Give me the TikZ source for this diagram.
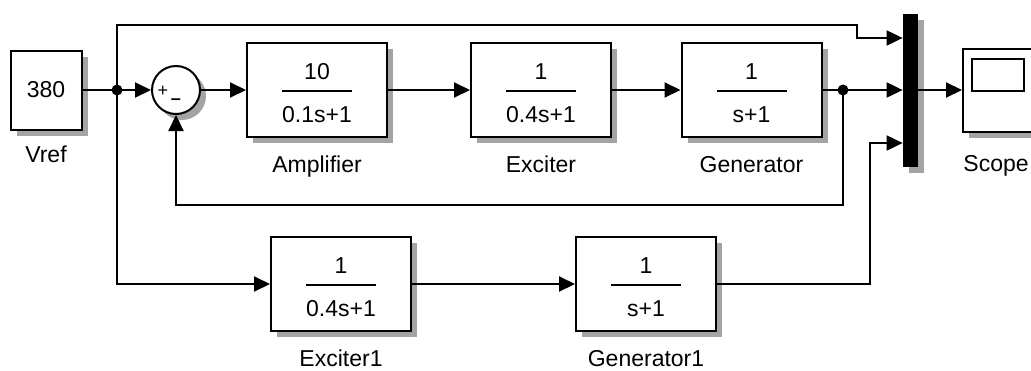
\documentclass[tikz,border=0pt]{standalone}
\usepackage{fontspec}
\setmainfont{Liberation Sans}
\usetikzlibrary{arrows.meta, positioning, calc, shadows}
\definecolor{ShadowGray}{HTML}{9A9A9A}

\tikzset{
  shd/.style={drop shadow={shadow xshift=3pt, shadow yshift=-3pt, fill=ShadowGray, opacity=0.9}},
  blk/.style={draw, line width=1pt, fill=white, minimum width=70pt, minimum height=47pt, inner sep=0pt, shd},
  sig/.style={line width=1pt},
  arr/.style={sig, -{Triangle[length=8pt, width=7.5pt]}},
  jn/.style={circle, fill=black, minimum size=5.5pt, inner sep=0pt},
  lbl/.style={font=\fontsize{11.5}{13}\selectfont},
  blkcaption/.style={lbl, anchor=base},
}

% transfer function block: name, centre, numerator, denominator, caption
\newcommand{\tfblock}[5]{%
  \node[blk] (#1) at (#2) {};
  \node[lbl] at ($(#1.center)+(0,-18)$) {#3};
  \draw[line width=0.8pt] ($(#1.center)+(-35,1)$) -- ++(70,0);
  \node[lbl] at ($(#1.center)+(0,25)$) {#4};
  \node[blkcaption] at ($(#1.south)+(0,34)$) {#5};
}

\begin{document}
\begin{tikzpicture}[x=0.5pt, y=-0.5pt]
  \useasboundingbox (0,0) rectangle (1031,370);

  % --- LAYOUT VARIABLES ---
  \def\MainY{90}
  \def\LowY{284}

  % =====================================================================
  % 1. SOURCE AND SUMMING JUNCTION
  % =====================================================================
  \node[blk, minimum width=35.5pt, minimum height=39.5pt, lbl] (vref) at (46,\MainY) {380};
  \node[blkcaption] at ($(vref.south)+(0,32)$) {Vref};

  \node[circle, draw, line width=1pt, fill=white, minimum size=24pt, inner sep=0pt, shd]
    (sum) at (176,\MainY) {};
  \node[font=\fontsize{9}{9}\selectfont] at ($(sum.center)+(-13,1)$) {+};
  \node[font=\fontsize{9}{9}\selectfont\bfseries] at ($(sum.center)+(0,12)$) {–};

  % =====================================================================
  % 2. MAIN LOOP (upper row)
  % =====================================================================
  \tfblock{amp}{317,\MainY}{10}{0.1s+1}{Amplifier}
  \tfblock{exc}{541,\MainY}{1}{0.4s+1}{Exciter}
  \tfblock{gen}{751.5,\MainY}{1}{s+1}{Generator}

  % =====================================================================
  % 3. OPEN LOOP (lower row)
  % =====================================================================
  \tfblock{exc1}{341,\LowY}{1}{0.4s+1}{Exciter1}
  \tfblock{gen1}{646,\LowY}{1}{s+1}{Generator1}

  % =====================================================================
  % 4. MUX AND SCOPE
  % =====================================================================
  \node[fill=black, minimum width=7.5pt, minimum height=76.5pt, inner sep=0pt, shd]
    (mux) at (910.5,\MainY) {};
  \coordinate (in1) at ($(mux.west)+(0,-52)$);
  \coordinate (in2) at (mux.west);
  \coordinate (in3) at ($(mux.west)+(0,53)$);

  \node[blk, minimum width=40pt, minimum height=41.5pt] (scope) at (1003,\MainY) {};
  \draw[line width=1pt] ($(scope.north west)+(10,11)$) rectangle ++(52,32);
  \node[blkcaption] at ($(scope.south)+(-7,39)$) {Scope};

  % =====================================================================
  % 5. SIGNAL LINES
  % =====================================================================
  \coordinate (dotA) at (117,\MainY);
  \coordinate (dotB) at (843,\MainY);
  \coordinate (top) at (857,25);
  \coordinate (fb) at (176,205);
  \coordinate (bot) at (870,143);

  \draw[sig] (vref) -- (dotA);
  \draw[arr] (dotA) -- (sum);
  \draw[arr] (sum) -- (amp);
  \draw[arr] (amp) -- (exc);
  \draw[arr] (exc) -- (gen);
  \draw[sig] (gen) -- (dotB);
  \draw[arr] (dotB) -- (in2);
  \draw[arr] (dotA) |- (top) |- (in1);
  \draw[arr] (dotB) |- (fb) -- (sum);
  \draw[arr] (dotA) |- (exc1);
  \draw[arr] (exc1) -- (gen1);
  \draw[arr] (gen1) -| (bot) -- (in3);
  \draw[arr] (mux.east) -- (scope);

  % branch points
  \node[jn] at (dotA) {};
  \node[jn] at (dotB) {};

\end{tikzpicture}
\end{document}
